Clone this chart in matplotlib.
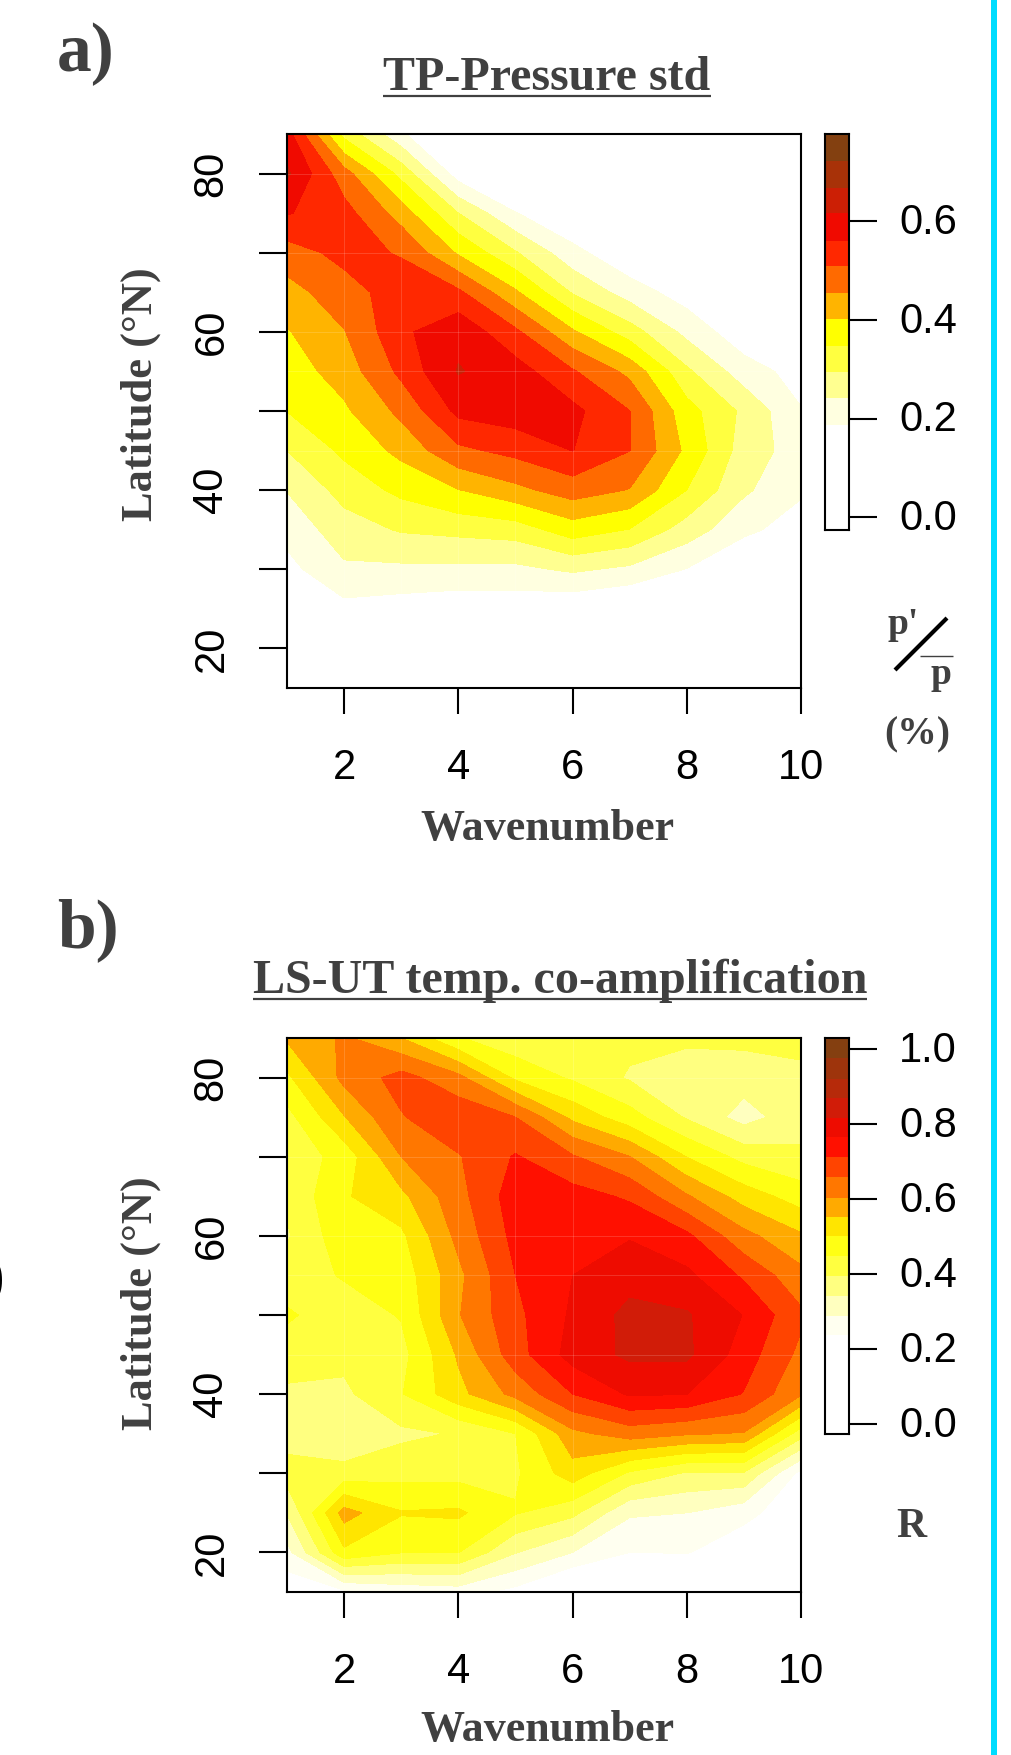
import numpy as np
import matplotlib
matplotlib.use("Agg")
import matplotlib.pyplot as plt
from matplotlib.colors import ListedColormap, BoundaryNorm
from matplotlib.lines import Line2D
from matplotlib.transforms import ScaledTranslation

W, H = 1012, 1755
wavenumbers = list(range(1, 11))
latitudes = list(range(15, 90, 5))

# panel a: one list per wavenumber, latitude 15 -> 85
a_k1 = [.07,.10,.14,.170,.205,.243,.295,.348,.375,.398,.433,.485,.565,.625,.585]
a_k2 = [.08,.12,.17,.232,.27,.315,.358,.393,.425,.452,.487,.525,.53,.477,.33]
a_k3 = [.07,.11,.16,.23,.30,.36,.417,.468,.522,.55,.535,.505,.43,.33,.20]
a_k4 = [.06,.10,.15,.228,.31,.40,.497,.575,.62,.60,.52,.395,.295,.16,.05]
a_k5 = [.06,.10,.15,.228,.32,.44,.525,.59,.585,.52,.41,.30,.19,.08,.03]
a_k6 = [.05,.09,.14,.25,.375,.48,.562,.575,.515,.41,.29,.205,.13,.05,.02]
a_k7 = [.04,.07,.12,.23,.345,.452,.51,.51,.44,.32,.215,.14,.07,.03,.01]
a_k8 = [.03,.05,.10,.185,.27,.347,.39,.368,.305,.225,.16,.10,.05,.02,.005]
a_k9 = [.02,.03,.07,.13,.20,.25,.27,.284,.213,.15,.10,.06,.03,.01,.0]
a_k10 = [.01,.02,.05,.10,.16,.195,.215,.19,.165,.10,.06,.03,.01,.0,.0]

# panel b
b_k1 = [.20,.27,.345,.42,.37,.385,.425,.455,.42,.39,.405,.41,.43,.49,.56]
b_k2 = [.225,.49,.575,.415,.35,.385,.41,.42,.453,.482,.495,.47,.55,.62,.612]
b_k3 = [.25,.45,.505,.43,.385,.445,.43,.452,.47,.49,.54,.604,.655,.68,.553]
b_k4 = [.26,.45,.51,.43,.40,.537,.56,.60,.59,.62,.64,.655,.70,.62,.452]
b_k5 = [.22,.345,.452,.44,.448,.62,.69,.70,.713,.73,.742,.718,.659,.49,.41]
b_k6 = [.15,.288,.41,.53,.59,.713,.785,.772,.764,.75,.735,.665,.54,.44,.405]
b_k7 = [.14,.237,.295,.44,.63,.77,.825,.83,.795,.76,.705,.605,.47,.39,.41]
b_k8 = [.12,.24,.288,.39,.61,.765,.825,.82,.775,.725,.61,.50,.39,.37,.405]
b_k9 = [.10,.20,.253,.39,.60,.71,.74,.762,.705,.62,.53,.43,.32,.365,.41]
b_k10 = [.05,.10,.20,.22,.42,.61,.645,.67,.62,.56,.475,.405,.375,.385,.41]

a_levels = [-.026,.187,.241,.295,.347,.402,.4545,.509,.561,.616,.668,.723,.777]
a_colors = ['#FFFFFF','#FFFFE0','#FFFF90','#FFFF40','#FFFF00','#FFB400','#FF6A00',
            '#FF2800','#F00A00','#CC1F05','#A83208','#834010']
b_levels = [-.026,.237,.288,.342,.396,.448,.501,.553,.604,.659,.713,.764,.815,.869,.921,.977,1.029]
b_colors = ['#FFFFFF','#FFFFF0','#FFFFBF','#FFFF80','#FFFF40','#FFFF14','#FFE500','#FFAA00',
            '#FF7700','#FF4400','#FF1000','#EE0C00','#D11C08','#B62A0A','#9E340C','#843F10']
a_cticks = [0.0, 0.2, 0.4, 0.6]
b_cticks = [0.0, 0.2, 0.4, 0.6, 0.8, 1.0]
x_ticks = [2, 4, 6, 8, 10]
y_ticks = [20, 30, 40, 50, 60, 70, 80]
y_ticklabels = ['20', '', '40', '', '60', '', '80']
seams_x = [2, 3, 4, 5, 6]
seams_y = [80, 70, 60, 55, 45]

SERIF = 'Liberation Serif'
SANS = 'Liberation Sans'
GREY = '#404040'

fig = plt.figure(figsize=(W/100, H/100), dpi=100, facecolor='white')

def rect(x0, y0, x1, y1):
    return [x0/W, 1-y1/H, (x1-x0)/W, (y1-y0)/H]

def ftext(x, y, s, size, ha='center', va='center', rot=0, color=GREY, weight='bold', fam=SERIF):
    return fig.text(x/W, 1-y/H, s, fontsize=size, ha=ha, va=va, rotation=rot,
                    color=color, fontweight=weight, family=fam)

def fline(x0, y0, x1, y1, color=GREY, lw=1.5):
    fig.add_artist(Line2D([x0/W, x1/W], [1-y0/H, 1-y1/H], color=color, lw=lw,
                          solid_capstyle='butt'))

def style(ax):
    for s in ax.spines.values():
        s.set_linewidth(1.5)
    ax.tick_params(width=1.5, color='black')

def panel(top, cols, levels, colors, cticks, xlabel_y, ylabel_y):
    bottom = top + 554
    ax = fig.add_axes(rect(287, top, 801, bottom))
    Z = np.array(cols).T
    ax.contourf(wavenumbers, latitudes, Z, levels=levels, colors=colors)
    for v in seams_x:
        ax.axvline(v, color='white', lw=0.6, alpha=0.18)
    for v in seams_y:
        ax.axhline(v, color='white', lw=0.6, alpha=0.18)
    ax.set_xlim(1, 10)
    ax.set_ylim(15, 85)
    ax.set_xticks(x_ticks)
    ax.set_yticks(y_ticks)
    ax.set_yticklabels(y_ticklabels)
    style(ax)
    ax.tick_params(axis='x', length=19, pad=24.5)
    ax.tick_params(axis='y', length=20, pad=20)
    for t in ax.get_xticklabels():
        t.set_fontsize(30); t.set_family(SANS)
    for t in ax.get_yticklabels():
        t.set_fontsize(30); t.set_family(SANS); t.set_rotation(90); t.set_va('center')
    ftext(547, xlabel_y, 'Wavenumber', 31.7)
    ftext(141, ylabel_y, 'Latitude (°N)', 32, rot=90)

    cax = fig.add_axes(rect(825, top, 849, top + 396))
    cmap = ListedColormap(colors)
    norm = BoundaryNorm(levels, cmap.N)
    cax.pcolormesh([0, 1], levels, np.array(levels[:-1])[:, None] + 1e-4, cmap=cmap, norm=norm)
    cax.set_ylim(levels[0], levels[-1])
    cax.set_xticks([])
    cax.yaxis.tick_right()
    cax.set_yticks(cticks)
    cax.set_yticklabels([f'{v:.1f}' for v in cticks])
    style(cax)
    cax.tick_params(axis='y', length=20, pad=16)
    up = ScaledTranslation(0, 2/72, fig.dpi_scale_trans)
    for t in cax.get_yticklabels():
        t.set_fontsize(30); t.set_family(SANS)
        t.set_transform(t.get_transform() + up)
    return ax

def title(s, xc, y, uy):
    t = ftext(xc, y, s, 34.6)
    fig.canvas.draw()
    bb = t.get_window_extent()
    fline(bb.x0, uy, bb.x1, uy, lw=1.6)

panel(134, [a_k1,a_k2,a_k3,a_k4,a_k5,a_k6,a_k7,a_k8,a_k9,a_k10], a_levels, a_colors, a_cticks, 829, 394)
panel(1038, [b_k1,b_k2,b_k3,b_k4,b_k5,b_k6,b_k7,b_k8,b_k9,b_k10], b_levels, b_colors, b_cticks, 1730, 1303)

title('TP-Pressure std', 547, 78, 96)
title('LS-UT temp. co-amplification', 560, 981, 999)
ftext(57, 54, 'a)', 50, ha='left')
ftext(57, 930, 'b)', 50, ha='left')
ftext(4, 1280, ')', 40, ha='right', color='black')

# ratio label of panel a
ftext(903, 624, "p'", 27)
fline(895, 670, 947, 618, color='black', lw=3)
fline(920, 656, 953, 656, lw=1)
ftext(941, 675, 'p', 27)
ftext(917, 735, '(%)', 28.5)
ftext(911, 1527, 'R', 30)

# cyan bar at the right
fig.add_artist(plt.Rectangle((991/W, 0), 6/W, 1, transform=fig.transFigure, color='#00DDFF', lw=0))

fig.savefig('out.png', dpi=100)
